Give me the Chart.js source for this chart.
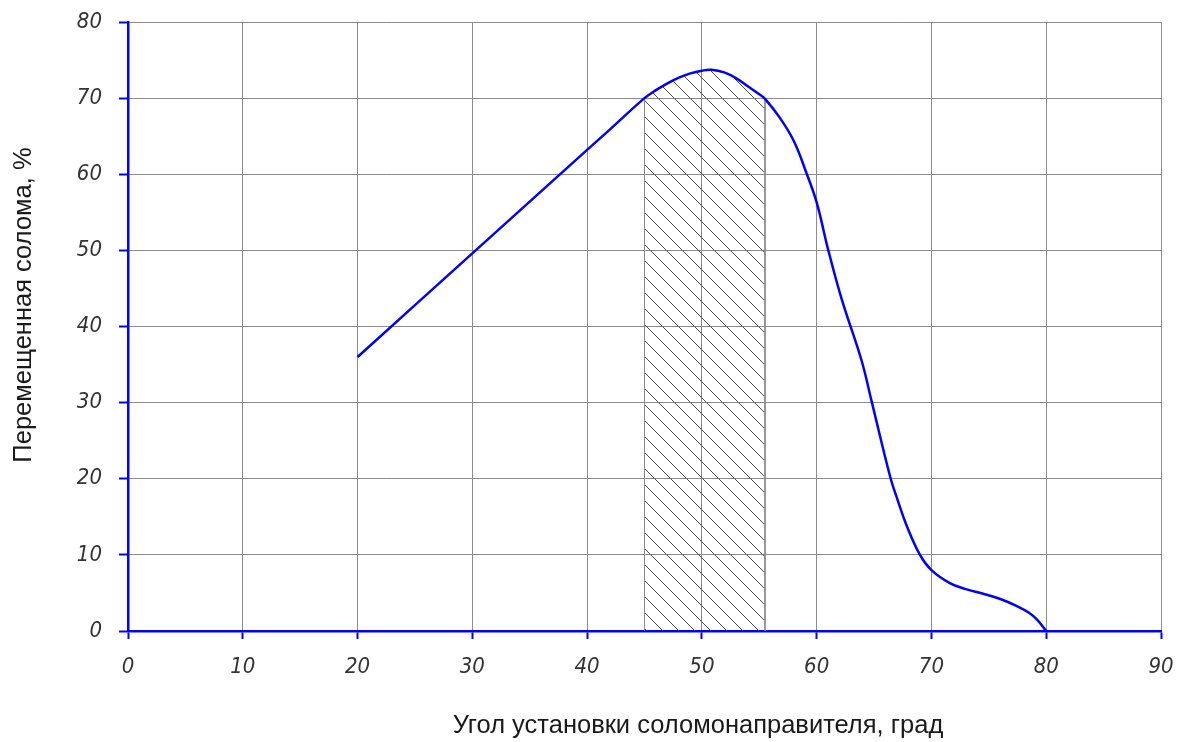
<!DOCTYPE html>
<html>
<head>
<meta charset="utf-8">
<script src="https://cdn.jsdelivr.net/npm/chart.js@4/dist/chart.umd.min.js"></script>
<style>
  html, body { margin: 0; padding: 0; background: #fff; }
  #wrap { width: 1188px; height: 742px; }
</style>
</head>
<body>
<div id="wrap"><canvas id="c" width="1188" height="742"></canvas></div>
<script>
// Угол установки (град) и перемещенная солома (%)
const angles = [20, 30, 40, 42, 45, 46, 47, 48, 49, 50, 50.8, 52, 53, 54, 55, 55.5,
                56.8, 58, 59.1, 60, 61, 62.2, 63.9, 64.8, 66.4, 67.1, 67.8, 69, 70,
                71.6, 73, 74.5, 76, 77.4, 78.5, 79.2, 80];
const straw  = [36, 49.6, 63.2, 65.9, 70, 71.05, 71.95, 72.7, 73.25, 73.6, 73.72, 73.35, 72.6, 71.55, 70.5, 69.9,
                67.4, 64.4, 60.2, 56.3, 50.1, 43.5, 35.6, 30.1, 20.3, 17.0, 14.0, 10, 8,
                6.3, 5.5, 4.9, 4.2, 3.3, 2.4, 1.5, 0];

// Рекомендуемый диапазон углов (заштрихован)
const zoneFrom = 45;
const zoneTo = 55.5;

const xTicks = [0, 10, 20, 30, 40, 50, 60, 70, 80, 90];
const yTicks = [0, 10, 20, 30, 40, 50, 60, 70, 80];

const xTitle = 'Угол установки соломонаправителя, град';
const yTitle = 'Перемещенная солома, %';

const curve = angles.map((a, i) => ({ x: a, y: straw[i] }));

// Контур заштрихованной области: от оси вверх до кривой и обратно
const zone = [{ x: zoneFrom, y: 0 }]
  .concat(curve.filter(p => p.x >= zoneFrom && p.x <= zoneTo))
  .concat([{ x: zoneTo, y: 0 }]);

function hatchPattern() {
  const s = 16;
  const c = document.createElement('canvas');
  c.width = s; c.height = s;
  const g = c.getContext('2d');
  g.strokeStyle = '#4a4a4a';
  g.lineWidth = 1;
  g.beginPath();
  g.moveTo(-2, -2); g.lineTo(s + 2, s + 2);
  g.moveTo(-2, s - 2); g.lineTo(2, s + 2);
  g.moveTo(s - 2, -2); g.lineTo(s + 2, 2);
  g.stroke();
  return g.createPattern(c, 'repeat');
}

const tickFont = { family: '"Liberation Sans Narrow", "DejaVu Sans Condensed", sans-serif', size: 22, style: 'italic' };
const titleFont = '25.5px "Liberation Sans", Arial, sans-serif';

const axisTitles = {
  id: 'axisTitles',
  afterDraw(chart) {
    const ctx = chart.ctx;
    ctx.save();
    ctx.fillStyle = '#1a1a1a';
    ctx.font = titleFont;
    ctx.textAlign = 'center';
    ctx.textBaseline = 'middle';
    ctx.fillText(xTitle, 698, 726);
    ctx.translate(24, 305);
    ctx.rotate(-Math.PI / 2);
    ctx.fillText(yTitle, 0, 0);
    ctx.restore();
  }
};

new Chart(document.getElementById('c'), {
  type: 'line',
  data: {
    datasets: [
      {
        data: curve,
        borderColor: '#0000ff',
        borderWidth: 2.5,
        pointRadius: 0,
        tension: 0.4,
        fill: false,
        order: 0
      },
      {
        data: zone,
        borderColor: '#8a8a8a',
        borderWidth: 1,
        pointRadius: 0,
        tension: 0,
        fill: 'origin',
        backgroundColor: hatchPattern(),
        order: 1
      }
    ]
  },
  options: {
    responsive: false,
    animation: false,
    layout: { padding: { top: 22, right: 27, left: 0, bottom: 0 } },
    plugins: { legend: { display: false }, tooltip: { enabled: false } },
    scales: {
      x: {
        type: 'linear',
        min: 0, max: 90,
        afterFit(s) { s.height = 111; s.paddingLeft = 0; s.paddingRight = 0; },
        afterBuildTicks(s) { s.ticks = xTicks.map(v => ({ value: v })); },
        grid: { color: '#8c8c8c', lineWidth: 1, tickColor: '#0000ff', tickLength: 8, tickWidth: 2 },
        border: { color: '#0000ff', width: 2.5 },
        ticks: { font: tickFont, color: '#333', padding: 15, maxRotation: 0 }
      },
      y: {
        type: 'linear',
        min: 0, max: 80,
        afterFit(s) { s.width = 128; s.paddingTop = 0; s.paddingBottom = 0; },
        afterBuildTicks(s) { s.ticks = yTicks.map(v => ({ value: v })); },
        grid: { color: '#8c8c8c', lineWidth: 1, tickColor: '#0000ff', tickLength: 9, tickWidth: 2 },
        border: { color: '#0000ff', width: 2.5 },
        ticks: { font: tickFont, color: '#333', padding: 17 }
      }
    }
  },
  plugins: [axisTitles]
});
</script>
</body>
</html>
